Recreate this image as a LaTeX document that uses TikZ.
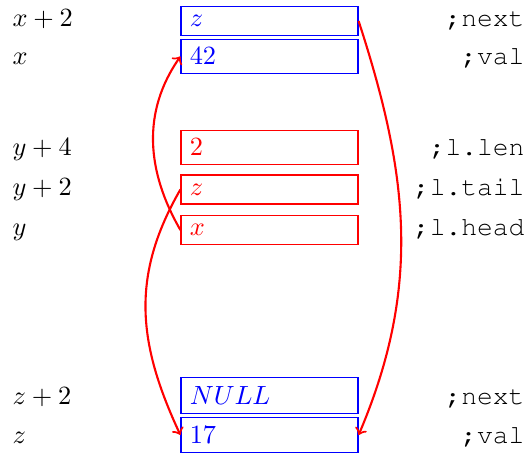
\documentclass[tikz,border=0pt]{standalone}
\usepackage{fontspec}
\newcommand{\courfam}{\fontencoding{T1}\fontfamily{pcr}\selectfont}
\begin{document}
\begin{tikzpicture}[x=0.38pt,y=-0.38pt,
 cell/.style={draw, text width=60.6pt, align=left, inner sep=3.333pt, line width=0.45pt},
 bluecell/.style={cell, draw=blue, text=blue},
 redcell/.style={cell, draw=red, text=red},
 addr/.style={anchor=base west, inner sep=0pt},
 cmt/.style={anchor=base east, inner sep=0pt, font=\courfam},
 ptr/.style={->, red, thick}]
\useasboundingbox (0,0) rectangle (528,454);
\coordinate (L) at (12,0);
\coordinate (R) at (525,0);
% cells
\node[bluecell] (nx)  at (269.5,21)    {$z$};
\node[bluecell] (v42) at (269.5,56.5)  {$42$};
\node[redcell]  (len) at (269.5,147.5) {$2$};
\node[redcell]  (tl)  at (269.5,189.5) {$z$};
\node[redcell]  (hd)  at (269.5,230)   {$x$};
\node[bluecell] (nul) at (269.5,395.5) {$NULL$};
\node[bluecell] (v17) at (269.5,435)   {$17$};
% addresses
\node[addr] (a1) at (nx.base -| L)  {$x+2$};
\node[addr] (a2) at (v42.base -| L) {$x$};
\node[addr] (a3) at (len.base -| L) {$y+4$};
\node[addr] (a4) at (tl.base -| L)  {$y+2$};
\node[addr] (a5) at (hd.base -| L)  {$y$};
\node[addr] (a6) at (nul.base -| L) {$z+2$};
\node[addr] (a7) at (v17.base -| L) {$z$};
% comments
\node[cmt] (c1) at (nx.base -| R)  {;next};
\node[cmt] (c2) at (v42.base -| R) {;val};
\node[cmt] (c3) at (len.base -| R) {;l.len};
\node[cmt] (c4) at (tl.base -| R)  {;l.tail};
\node[cmt] (c5) at (hd.base -| R)  {;l.head};
\node[cmt] (c6) at (nul.base -| R) {;next};
\node[cmt] (c7) at (v17.base -| R) {;val};
% pointers
\draw[ptr] (hd.west) to[out=120,in=235] (v42.west);
\draw[ptr] (tl.west) to[out=240,in=115,looseness=1.05] (v17.west);
\draw[ptr] (nx.east) to[out=-72,in=67] (v17.east);
\end{tikzpicture}
\end{document}
